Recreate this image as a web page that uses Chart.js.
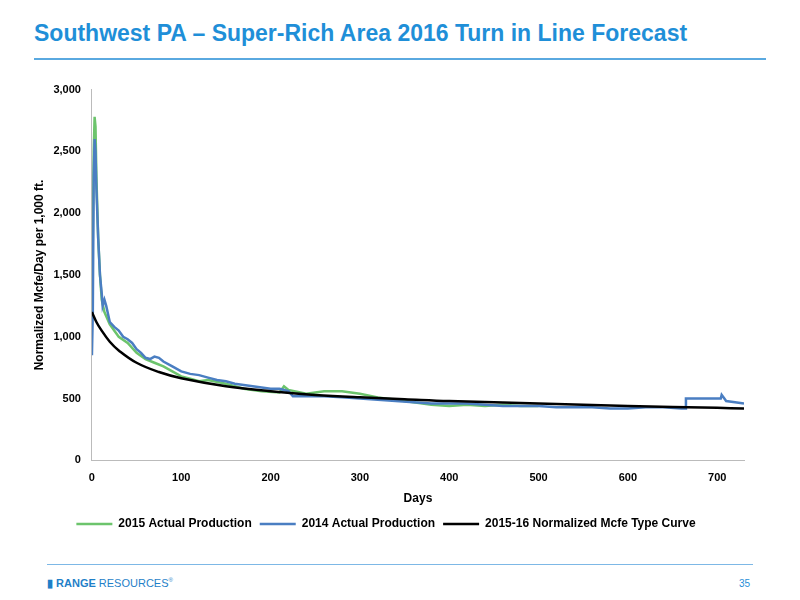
<!DOCTYPE html><html><head><meta charset="utf-8">
<script src="https://cdn.jsdelivr.net/npm/chart.js@4"></script>
<style>
body{margin:0;width:800px;height:600px;background:#fff;font-family:"Liberation Sans",Arial,sans-serif;position:relative;overflow:hidden}
#t{position:absolute;left:34px;top:20px;font-size:23px;font-weight:bold;color:#1f8fd8}
#l1{position:absolute;left:34px;right:34px;top:58px;border-top:2px solid #5aa9e0}
#l2{position:absolute;left:47px;right:47px;top:564px;border-top:1px solid #7db8e6}
#logo{position:absolute;left:47px;top:577px;font-size:11px;color:#1f7fc8}
#pg{position:absolute;right:50px;top:578px;font-size:10px;color:#1f8fd8}
#c{position:absolute;left:0;top:80px}
</style></head><body>
<div id="t">Southwest PA – Super-Rich Area 2016 Turn in Line Forecast</div>
<div id="l1"></div><div id="l2"></div>
<div id="logo"><b>▮ RANGE</b> RESOURCES<sup style="font-size:6px">®</sup></div>
<div id="pg">35</div>
<canvas id="c" width="800" height="460"></canvas>
<script>
const xTicks=[0,100,200,300,400,500,600,700];
const days2014=[0,1,2,3,4,5,7,9,11,12,14,16,20,25,30,35,40,45,50,55,60,65,70,75,80,90,100,110,120,130,140,150,160,170,180,190,200,210,220,225,240,260,280,300,320,340,360,380,400,420,440,460,480,500,520,540,560,580,600,620,640,660,664,665,680,700,704,705,708,710,720,730];
const prod2014=[850,1200,2300,2600,2500,2200,1800,1500,1350,1250,1300,1250,1120,1080,1050,1000,980,950,900,870,830,820,840,830,800,760,720,700,690,670,650,640,620,610,600,590,580,580,560,520,520,520,510,500,490,480,470,460,460,460,450,440,440,440,430,430,430,420,420,430,430,420,420,500,500,500,500,530,500,480,470,460];
const days2015=[0,1,2,3,4,5,7,9,11,14,20,30,40,50,60,70,80,90,100,110,120,130,150,170,190,210,215,220,240,260,280,300,320,340,360,380,400,420,440,460,480,500];
const prod2015=[1200,1800,2500,2780,2700,2300,1800,1500,1300,1200,1100,1000,950,870,820,790,760,720,680,660,640,650,620,580,560,550,600,570,540,560,560,540,510,490,470,450,440,450,440,450,440,440];
const daysType=[0,5,10,20,30,50,75,100,150,200,250,300,350,400,500,600,700,730];
const typeCurve=[1200,1120,1060,960,890,790,715,665,600,560,530,510,495,480,460,440,425,420];
const pts=(x,y)=>x.map((d,i)=>({x:d,y:y[i]}));
new Chart(document.getElementById('c'),{type:'line',data:{datasets:[
{label:'2015 Actual Production',order:3,data:pts(days2015,prod2015),borderColor:'#6cc46c',borderWidth:2.5,pointRadius:0,tension:0},
{label:'2014 Actual Production',order:2,data:pts(days2014,prod2014),borderColor:'#4a7ec2',borderWidth:2.5,pointRadius:0,tension:0},
{label:'2015-16 Normalized Mcfe Type Curve',order:1,data:pts(daysType,typeCurve),borderColor:'#000',borderWidth:2.5,pointRadius:0,tension:0.4}
]},options:{animation:false,responsive:false,layout:{padding:{left:28,right:56,top:0}},
plugins:{legend:{position:'bottom',labels:{sort:(a,b)=>a.datasetIndex-b.datasetIndex,boxWidth:36,boxHeight:0,color:'#000',font:{size:12,weight:'bold',family:'Liberation Sans'},padding:8}}},
scales:{x:{type:'linear',min:0,max:730,afterBuildTicks:a=>{a.ticks=xTicks.map(v=>({value:v}))},grid:{display:false},border:{color:'#bbb'},ticks:{color:'#000',font:{size:11,weight:'bold'}},title:{display:true,text:'Days',color:'#000',font:{size:12,weight:'bold'}}},
y:{min:0,max:3000,ticks:{stepSize:500,color:'#000',font:{size:11,weight:'bold'},callback:v=>v.toLocaleString('en-US')},grid:{display:false},border:{color:'#bbb'},title:{display:true,text:'Normalized Mcfe/Day per 1,000 ft.',color:'#000',font:{size:12,weight:'bold'}}}}}});
</script></body></html>
